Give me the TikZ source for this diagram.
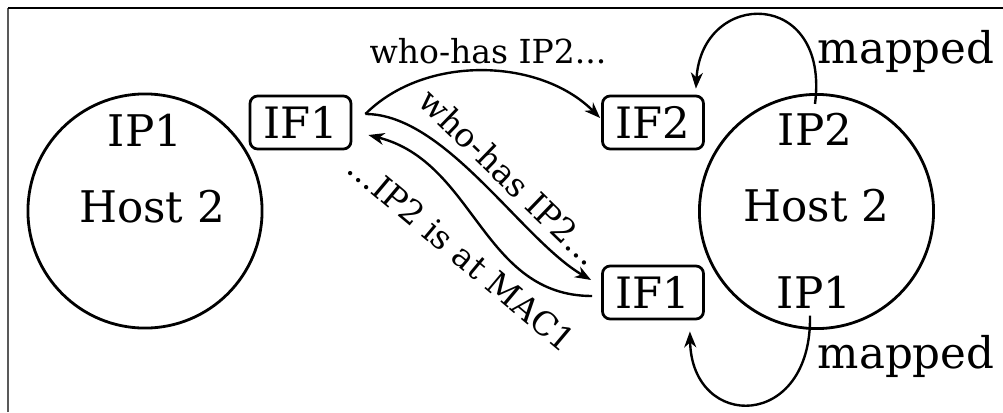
\documentclass[tikz,border=0pt]{standalone}
\usepackage{fontspec}
\setmainfont{DejaVu Serif}
\usetikzlibrary{arrows.meta}
\begin{document}
\begin{tikzpicture}[x=0.01cm,y=-0.01cm,
  host/.style={circle, draw, line width=0.8pt, minimum size=2.34cm, inner sep=0pt},
  ifbox/.style={draw, line width=0.78pt, rounded corners=2.2pt, minimum width=1.01cm, minimum height=0.53cm, inner sep=0pt, font=\fontsize{12.3}{14}\selectfont},
  big/.style={inner sep=0pt, font=\fontsize{12.4}{14}\selectfont},
  small/.style={inner sep=0pt, font=\fontsize{9.4}{11}\selectfont},
  conn/.style={line width=0.68pt, -{Stealth[length=0.16cm, width=0.12cm, inset=0.05cm]}}]
\useasboundingbox (0,0) rectangle (1003,412);
% frame
\draw[gray!70!black, line width=0.6pt] (8,412) -- (8,8);
\draw[black, line width=0.4pt] (8,8) -- (1003,8);
% hosts
\node[host] (hostL) at (145,211) {};
\node[host] (hostR) at (816.5,211.5) {};
\node[big, anchor=base] (ip1L) at (145,146) {IP1};
\node[big, anchor=base] (h2L) at (152,222) {Host 2};
\node[big, anchor=base] (ip2R) at (815,145) {IP2};
\node[big, anchor=base] (h2R) at (816.5,221) {Host 2};
\node[big, anchor=base] (ip1R) at (814,308) {IP1};
% interfaces
\node[ifbox] (if1L) at (300.5,122.5) {IF1};
\node[ifbox] (if2R) at (653,122.5) {IF2};
\node[ifbox] (if1R) at (653,292.5) {IF1};
% labels
\node[big, anchor=base west] (mapTop) at (817,63) {mapped};
\node[big, anchor=base west] (mapBot) at (817,368) {mapped};
\node[small, anchor=base] (lblTop) at (488,63) {who-has IP2...};
\node[small, rotate=-44] (lblS) at (510,177) {who-has IP2...};
\node[small, rotate=-40] (lblR) at (462,254) {...IP2 is at MAC1};
% connectors
\draw[conn] ([xshift=0.13cm,yshift=0.085cm]if1L.east) .. controls +(60,-60) and +(-60,-60) .. ([xshift=-0.01cm,yshift=0.045cm]if2R.west);
\draw[conn] ([xshift=0.13cm,yshift=0.085cm]if1L.east) .. controls +(80,0) and +(-69,-40) .. ([xshift=-0.10cm,yshift=0.125cm]if1R.west);
\draw[conn] ([xshift=-0.09cm,yshift=-0.035cm]if1R.west) .. controls +(-110,0) and +(107,27) .. ([xshift=0.16cm,yshift=-0.125cm]if1L.east);
\draw[conn] ([yshift=0.08cm]ip2R.north) .. controls +(15,-116) and +(6,-100) .. ([xshift=-0.09cm,yshift=0.06cm]if2R.north east);
\draw[conn] ([xshift=-0.04cm,yshift=-0.07cm]ip1R.south) .. controls +(2,115) and +(2,100) .. ([xshift=-0.15cm,yshift=-0.11cm]if1R.south east);
\end{tikzpicture}
\end{document}
